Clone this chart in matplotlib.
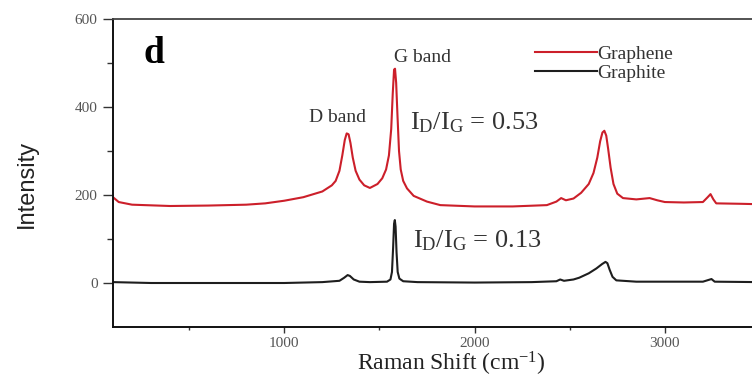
import matplotlib
matplotlib.use('Agg')
import matplotlib.pyplot as plt
from matplotlib.ticker import MultipleLocator

# Raman spectra (shift in cm^-1, intensity in a.u.)
graphene_shift = [100, 130, 200, 400, 600, 800, 900, 1000, 1100, 1200, 1250, 1270,
                  1290, 1305, 1318, 1328, 1338, 1348, 1360, 1375, 1395, 1420, 1450,
                  1490, 1515, 1535, 1550, 1562, 1570, 1577, 1582, 1588, 1595, 1603,
                  1612, 1625, 1645, 1680, 1750, 1820, 2000, 2200, 2380, 2430, 2455,
                  2480, 2520, 2560, 2600, 2625, 2645, 2660, 2672, 2682, 2692, 2702,
                  2715, 2730, 2750, 2780, 2850, 2920, 2960, 3000, 3100, 3200, 3225,
                  3240, 3255, 3270, 3400, 3500]
graphene_int = [195, 184, 178, 175, 176, 178, 181, 187, 195, 208, 222, 232,
                255, 290, 325, 340, 338, 318, 285, 255, 235, 222, 216,
                225, 238, 258, 290, 350, 430, 485, 487, 455, 380, 300,
                258, 232, 215, 198, 185, 177, 174, 174, 177, 185, 193,
                188, 192, 205, 225, 250, 285, 322, 342, 346, 335, 305,
                262, 225, 203, 193, 190, 193, 188, 184, 183, 184, 195,
                202, 190, 181, 180, 179]

graphite_shift = [100, 300, 600, 1000, 1200, 1290, 1315, 1333, 1345, 1365, 1395,
                  1450, 1540, 1558, 1566, 1572, 1577, 1581, 1585, 1590, 1596, 1605,
                  1625, 1700, 2000, 2300, 2430, 2450, 2470, 2520, 2550, 2600, 2640,
                  2670, 2688, 2698, 2710, 2725, 2745, 2850, 3200, 3245, 3262, 3500]
graphite_int = [2, 0, 0, 0, 2, 5, 12, 18, 16, 8, 3,
                2, 3, 8, 25, 80, 135, 143, 128, 70, 25, 10,
                4, 2, 1, 2, 4, 8, 5, 8, 12, 22, 33,
                43, 48, 45, 30, 14, 6, 3, 3, 9, 3, 2]

x_ticks = [1000, 2000, 3000]
y_ticks = [0, 200, 400, 600]

plt.rcParams['font.family'] = 'Liberation Serif'
plt.rcParams['mathtext.fontset'] = 'custom'
plt.rcParams['mathtext.rm'] = 'Liberation Serif'
plt.rcParams['mathtext.it'] = 'Liberation Serif:italic'

fig = plt.figure(figsize=(7.52, 3.78), dpi=100)
ax = fig.add_axes([113 / 752, 1 - 327 / 378, (760 - 113) / 752, (327 - 19) / 378])

ax.plot(graphene_shift, graphene_int, color='#cc1f2a', lw=1.5, label='Graphene')
ax.plot(graphite_shift, graphite_int, color='#1e1e1e', lw=1.5, label='Graphite')

ax.set_xlim(100, 3500)
ax.set_ylim(-100, 600)
ax.set_xticks(x_ticks)
ax.set_yticks(y_ticks)
ax.xaxis.set_minor_locator(MultipleLocator(500))
ax.set_yticks([100, 300, 500], minor=True)
ax.tick_params(which='both', direction='out', width=1, color='#333333',
               labelsize=11, labelcolor='#555555')
ax.tick_params(axis='y', which='major', length=7, pad=4)
ax.tick_params(axis='y', which='minor', length=4)
ax.tick_params(axis='x', which='major', length=4, pad=3)
ax.tick_params(axis='x', which='minor', length=2.5)

for side in ['left', 'bottom']:
    ax.spines[side].set_linewidth(1.4)
    ax.spines[side].set_color('#111111')
ax.spines['top'].set_linewidth(1.3)
ax.spines['top'].set_color('#444444')

ax.set_ylabel('Intensity', family='Liberation Sans', fontsize=17, color='#222222', va='center')
ax.yaxis.set_label_coords((27 - 113) / 647, (327 - 184) / 308)
ax.set_xlabel('Raman Shift (cm$^{-1}$)', fontsize=17, color='#222222', va='baseline')
ax.xaxis.set_label_coords((451 - 113) / 647, (327 - 371) / 308)

ax.text(258, 500, 'd', fontsize=27, fontweight='bold', va='baseline', ha='left')
ax.text(1726, 502, 'G band', fontsize=14, ha='center', va='baseline', color='#333333')
ax.text(1279, 366, 'D band', fontsize=14, ha='center', va='baseline', color='#333333')
ax.text(1663, 348, r'$\mathregular{I_D/I_G}$ = 0.53', fontsize=19, va='baseline',
        color='#333333')
ax.text(1679, 80, r'$\mathregular{I_D/I_G}$ = 0.13', fontsize=19, va='baseline',
        color='#333333')

ax.legend(loc='upper left', bbox_to_anchor=(535 / 752, 1 - 45 / 378),
          bbox_transform=fig.transFigure, frameon=False, fontsize=14,
          handlelength=3.2, handletextpad=0.0, labelspacing=0.1, borderpad=0,
          borderaxespad=0, labelcolor='#333333')

fig.savefig('out.png', dpi=100)
